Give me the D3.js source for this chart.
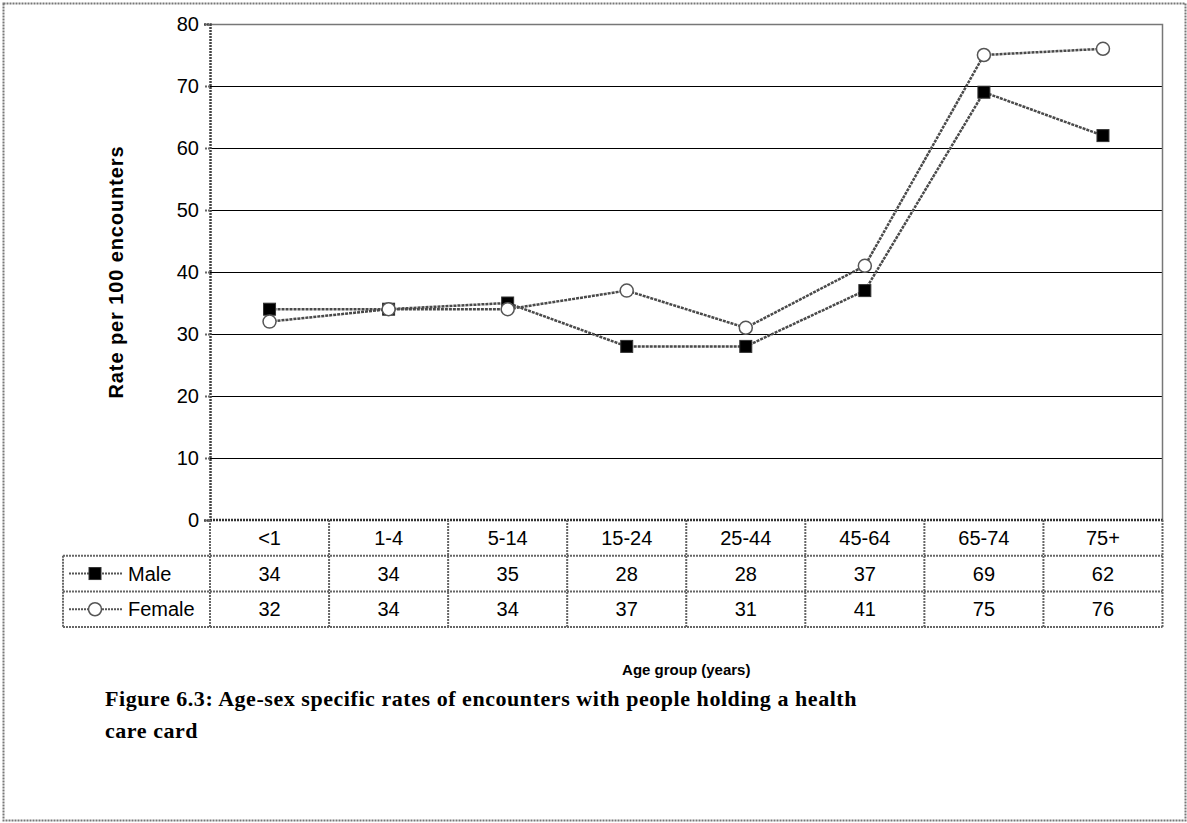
<!DOCTYPE html>
<html>
<head>
<meta charset="utf-8">
<script src="https://cdn.jsdelivr.net/npm/d3@7"></script>
<style>
  body { margin: 0; background: #fff; }
  svg { display: block; }
</style>
</head>
<body>
<div class="chart"></div>
<script>
// ____________________________ data ____________________________
const ageGroups = ["<1", "1-4", "5-14", "15-24", "25-44", "45-64", "65-74", "75+"];
const maleRates = [34, 34, 35, 28, 28, 37, 69, 62];
const femaleRates = [32, 34, 34, 37, 31, 41, 75, 76];
const yTicks = [0, 10, 20, 30, 40, 50, 60, 70, 80];

const width = 1187;
const height = 823;
const margin = {top: 24, right: 24, bottom: 303, left: 210};
const rowH = 35.7;
const legendLeft = 63;
const sans = "Liberation Sans, Arial, sans-serif";

const svg = d3.select(".chart")
    .append("svg")
    .attr("width", width)
    .attr("height", height);

// outer dotted frame
svg.append("rect")
    .attr("x", 3.5).attr("y", 3.5)
    .attr("width", width - 5).attr("height", height - 6)
    .attr("fill", "none")
    .attr("stroke", "#777")
    .attr("stroke-width", 2)
    .attr("stroke-dasharray", "2,1");

const xScale = d3.scaleBand()
    .domain(d3.range(ageGroups.length))
    .range([margin.left, width - margin.right - 0.5]);

const yScale = d3.scaleLinear()
    .domain([0, 80])
    .range([height - margin.bottom, margin.top]);

const x0 = margin.left, x1 = width - margin.right - 0.5;
const yBase = yScale(0);

// gridlines
svg.append("g")
    .selectAll("line")
    .data(yTicks.filter(d => d > 0 && d < 80))
    .join("line")
        .attr("x1", x0).attr("x2", x1)
        .attr("y1", d => Math.round(yScale(d)) + 0.5)
        .attr("y2", d => Math.round(yScale(d)) + 0.5)
        .attr("stroke", "#000")
        .attr("stroke-width", 1);

// plot frame top/right
svg.append("path")
    .attr("d", `M${x0},${yScale(80) + 0.5}H${x1}V${yBase}`)
    .attr("fill", "none")
    .attr("stroke", "#777")
    .attr("stroke-width", 1.5);

// y axis
function yAxis(g) {
    g.call(d3.axisLeft(yScale).tickValues(yTicks).tickSize(6).tickPadding(5))
     .attr("transform", `translate(${x0},0)`)
     .attr("font-family", sans)
     .attr("font-size", "20px");
    g.select(".domain").attr("stroke", "#444").attr("stroke-width", 2.5).attr("stroke-dasharray", "2,1");
    g.selectAll(".tick line").attr("stroke", "#666").attr("stroke-width", 2).attr("stroke-dasharray", "2,1");
    g.selectAll(".tick text").attr("fill", "#000");
}
svg.append("g").attr("class", "y axis").call(yAxis);

// x baseline
svg.append("line")
    .attr("x1", x0).attr("x2", x1)
    .attr("y1", yBase).attr("y2", yBase)
    .attr("stroke", "#333").attr("stroke-width", 2.5)
    .attr("stroke-dasharray", "2,1");

// ____________________ data table ____________________
const table = svg.append("g").attr("class", "table");
const tableBottom = yBase + rowH * 3;
const gridStyle = sel => sel.attr("stroke", "#666").attr("stroke-width", 2).attr("stroke-dasharray", "2,1");

// column lines
table.selectAll("line.col")
    .data(d3.range(ageGroups.length + 1))
    .join("line")
        .attr("class", "col")
        .attr("x1", i => i < ageGroups.length ? xScale(i) : x1)
        .attr("x2", i => i < ageGroups.length ? xScale(i) : x1)
        .attr("y1", yBase).attr("y2", tableBottom)
        .call(gridStyle);

// legend column left edge
table.append("line")
    .attr("x1", legendLeft).attr("x2", legendLeft)
    .attr("y1", yBase + rowH).attr("y2", tableBottom)
    .call(gridStyle);

// row lines
[1, 2, 3].forEach(r => {
    table.append("line")
        .attr("x1", legendLeft).attr("x2", x1)
        .attr("y1", yBase + rowH * r).attr("y2", yBase + rowH * r)
        .call(gridStyle);
});

const cellText = (g, vals, row) => g.selectAll(null)
    .data(vals)
    .join("text")
        .attr("x", (d, i) => xScale(i) + xScale.bandwidth() / 2)
        .attr("y", yBase + rowH * row + rowH / 2 + 7)
        .attr("text-anchor", "middle")
        .attr("font-family", sans)
        .attr("font-size", "20px")
        .text(d => d);

cellText(table.append("g"), ageGroups, 0);
cellText(table.append("g"), maleRates, 1);
cellText(table.append("g"), femaleRates, 2);

// legend keys
const series = [
    {name: "Male", values: maleRates, marker: "square"},
    {name: "Female", values: femaleRates, marker: "circle"}
];

function drawMarker(g, type, cx, cy) {
    if (type === "square") {
        g.append("rect")
            .attr("x", cx - 6).attr("y", cy - 6)
            .attr("width", 12).attr("height", 12)
            .attr("fill", "#000")
            .attr("stroke", "#333").attr("stroke-width", 1);
    } else {
        g.append("circle")
            .attr("cx", cx).attr("cy", cy).attr("r", 6.5)
            .attr("fill", "#fff")
            .attr("stroke", "#555").attr("stroke-width", 1.5);
    }
}

series.forEach((s, k) => {
    const cy = yBase + rowH * (k + 1) + rowH / 2;
    const lg = table.append("g");
    lg.append("line")
        .attr("x1", legendLeft + 6).attr("x2", legendLeft + 59)
        .attr("y1", cy).attr("y2", cy)
        .attr("stroke", "#555").attr("stroke-width", 2)
        .attr("stroke-dasharray", "2,1");
    drawMarker(lg, s.marker, legendLeft + 32, cy);
    lg.append("text")
        .attr("x", legendLeft + 65)
        .attr("y", cy + 7)
        .attr("font-family", sans)
        .attr("font-size", "20px")
        .text(s.name);
});

// ____________________ lines ____________________
const line = d3.line()
    .x((d, i) => xScale(i) + xScale.bandwidth() / 2)
    .y(d => yScale(d));

series.forEach(s => {
    svg.append("path")
        .datum(s.values)
        .attr("d", line)
        .attr("fill", "none")
        .attr("stroke", "#4a4a4a")
        .attr("stroke-width", 2.5)
        .attr("stroke-dasharray", "3,1");
});

series.forEach(s => {
    const mg = svg.append("g");
    s.values.forEach((v, i) => drawMarker(mg, s.marker, xScale(i) + xScale.bandwidth() / 2, yScale(v)));
});

// ____________________ labels ____________________
svg.append("text")
    .attr("transform", `translate(123,${(yScale(0) + yScale(80)) / 2}) rotate(-90)`)
    .attr("text-anchor", "middle")
    .attr("font-family", sans)
    .attr("font-size", "20px")
    .attr("font-weight", "bold")
    .attr("letter-spacing", "0.9px")
    .text("Rate per 100 encounters");

svg.append("text")
    .attr("x", (x0 + x1) / 2)
    .attr("y", 675)
    .attr("text-anchor", "middle")
    .attr("font-family", sans)
    .attr("font-size", "15px")
    .attr("font-weight", "bold")
    .text("Age group (years)");

const caption = svg.append("text")
    .attr("font-family", "Liberation Serif, serif")
    .attr("font-size", "22px")
    .attr("font-weight", "bold")
    .attr("letter-spacing", "0.55px");
caption.append("tspan").attr("x", 105).attr("y", 706)
    .text("Figure 6.3: Age-sex specific rates of encounters with people holding a health");
caption.append("tspan").attr("x", 105).attr("y", 738)
    .text("care card");
</script>
</body>
</html>
